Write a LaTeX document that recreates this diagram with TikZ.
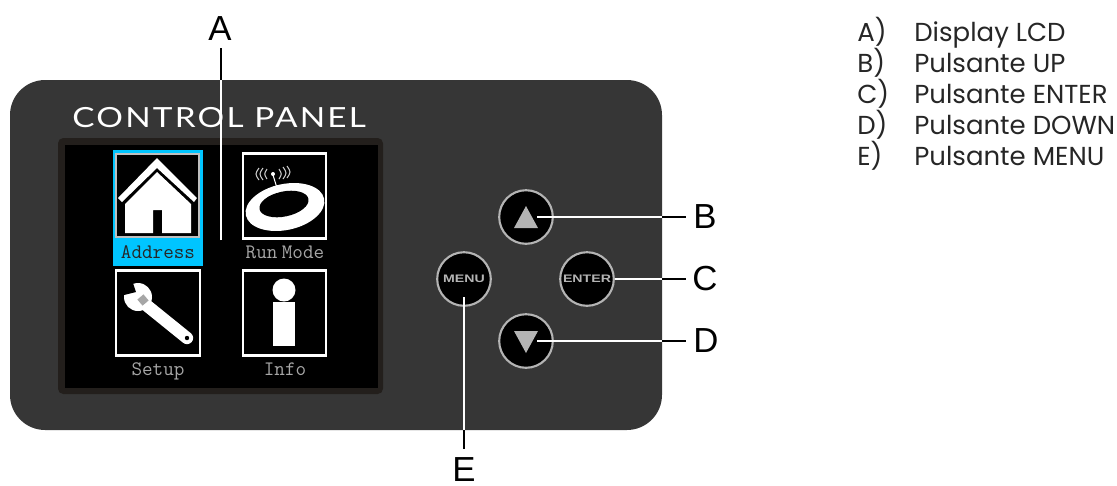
\documentclass[tikz,border=0pt]{standalone}
\usepackage{fontspec}
\setmainfont{Liberation Sans}
\newfontfamily\panelfont[LetterSpace=8,FakeStretch=1.2]{Lato}
\newfontfamily\legendfont{Poppins}
\newfontfamily\lcdfont{Latin Modern Mono}
\definecolor{paneldark}{HTML}{363636}
\definecolor{lcdrim}{HTML}{231F1C}
\definecolor{lcdcyan}{HTML}{00C5FF}
\definecolor{keygrey}{HTML}{B4B4B4}
\tikzset{keyround/.style={circle,draw=keygrey,line width=1.2pt,fill=black,minimum size=30.5pt,inner sep=0pt}}
\tikzset{keytext/.style={text=keygrey,font=\fontsize{6.2}{7}\selectfont\bfseries,inner sep=0pt}}
\tikzset{letter/.style={font=\fontsize{19.8}{22}\selectfont,inner sep=0pt}}
\tikzset{legendrow/.style={anchor=base west,font=\legendfont\fontsize{14.8}{18}\selectfont,text=black!85,inner sep=0pt}}
\tikzset{lcdtext/.style={anchor=base,font=\lcdfont\fontsize{11.7}{14}\selectfont,text=black!35,inner sep=0pt}}
\tikzset{iconbox/.style={draw=white,line width=1.7pt,fill=black}}
\tikzset{waveline/.style={draw=white!80!black,line width=.6pt}}
\tikzset{leadwhite/.style={draw=white,line width=1.2pt}}
\tikzset{leadblack/.style={draw=black,line width=1.2pt}}
\begin{document}
\begin{tikzpicture}
                [x=0.02cm,y=-0.02cm]
                \useasboundingbox (0,0) rectangle (1117,485);
                \fill [paneldark,rounded corners=20pt] (10,80) rectangle (662,430);
                \node [anchor=base west,text=white,inner sep=0pt,font=\panelfont\fontsize{15.8}{18}\selectfont] (title) at (72,127) {CONTROL PANEL};
                \fill [lcdrim,rounded corners=3pt] (58,138) rectangle (383,394);
                \fill [black] (65,145) rectangle (378,388);

                \fill [lcdcyan] (113,150) rectangle (203,266);
                \draw [draw=white!75!black,line width=.7pt,fill=black] (116,154) rectangle (199,237);
                \draw [iconbox] (243,153) rectangle (326,238);
                \draw [iconbox] (116,270) rectangle (200,355);
                \draw [iconbox] (243,270) rectangle (326,355);

                \fill [white] (157,158) -- (197,198) -- (194,202) -- (157,168) -- (122,202) -- (118,198) -- cycle;
                \fill [white] (157,172) -- (191,204) -- (191,233) -- (162,233) -- (162,210) -- (153,210) -- (153,233) -- (125,233) -- (125,204) -- cycle;

                \fill [white,rotate around={12:(285,207)}] (285,207) ellipse (40 and 23);
                \fill [black,rotate around={12:(284,204)}] (284,204) ellipse (25 and 12.5);
                \fill [white] (277,189) ellipse (5 and 3.5);
                \draw [white,line width=.6pt] (273,175) -- (277,188);
                \fill [white] (273,174) circle (2);
                \draw [waveline] (267,169) .. controls (264,174) .. (267,179);
                \draw [waveline] (263,168) .. controls (259,174) .. (263,180);
                \draw [waveline] (259,168) .. controls (255,174) .. (259,180);
                \draw [waveline] (279,169) .. controls (282,174) .. (279,179);
                \draw [waveline] (283,167) .. controls (287,173) .. (283,179);
                \draw [waveline] (287,166) .. controls (291,172) .. (287,178);

                \draw [white,line width=7pt,line cap=round] (140,300) -- (187,338);
                \fill [white] (138,297) circle (14);
                \fill [black] (120,278) -- (133,283) -- (136,292) -- (124,295) -- cycle;
                \fill [black!35,rotate around={40:(143,300)}] (139,296) rectangle (147,304);
                \fill [black] (187,338) circle (2.2);

                \fill [white] (284,290) circle (11.5);
                \fill [white] (273,302) rectangle (295,346);

                \node [lcdtext,text=black!85] (address) at (158,258) {Address};
                \node [lcdtext] (runmode) at (285,258) {Run\kern-.3em\ Mode};
                \node [lcdtext] (setup) at (158,375) {Setup};
                \node [lcdtext] (info) at (285,375) {Info};

                \node [keyround] (up) at (526,217) {};
                \node [keyround] (enter) at (587,279) {};
                \node [keyround] (down) at (526,341) {};
                \node [keyround] (menu) at (464,279) {};
                \fill [keygrey] (526,206) -- (538,228) -- (514,228) -- cycle;
                \fill [keygrey] (526,353) -- (538,331) -- (514,331) -- cycle;
                \node [keytext] (entertext) at (587,279) {\scalebox{1.3}[1]{ENTER}};
                \node [keytext] (menutext) at (464,279) {\scalebox{1.3}[1]{MENU}};

                \node [letter] (A) at (220,29) {A};
                \node [letter] (B) at (705,217) {B};
                \node [letter] (C) at (705,279) {C};
                \node [letter] (D) at (706,341) {D};
                \node [letter] (E) at (464,470) {E};

                \coordinate (ta) at (221,240);
                \coordinate (tb) at (537,217);
                \coordinate (tc) at (615,279);
                \coordinate (td) at (537,341);
                \coordinate (te) at (464,297);
                \coordinate (ea) at (221,80);
                \coordinate (eb) at (662,217);
                \coordinate (ec) at (662,279);
                \coordinate (ed) at (662,341);
                \coordinate (ee) at (464,430);
                \coordinate (la) at (221,48);
                \coordinate (lb) at (686,217);
                \coordinate (lc) at (686,279);
                \coordinate (ld) at (686,341);
                \coordinate (le) at (464,449);

                \foreach \from/\to in {ta/ea,tb/eb,tc/ec,td/ed,te/ee}
                \draw [leadwhite] (\from) -- (\to);

                \foreach \from/\to in {ea/la,eb/lb,ec/lc,ed/ld,ee/le}
                \draw [leadblack] (\from) -- (\to);

                \node [legendrow] (ka) at (857,41) {A)};
                \node [legendrow] (kb) at (857,72) {B)};
                \node [legendrow] (kc) at (857,103) {C)};
                \node [legendrow] (kd) at (857,134) {D)};
                \node [legendrow] (ke) at (857,165) {E)};
                \node [legendrow] (va) at (914,41) {Display LCD};
                \node [legendrow] (vb) at (914,72) {Pulsante UP};
                \node [legendrow] (vc) at (914,103) {Pulsante ENTER};
                \node [legendrow] (vd) at (914,134) {Pulsante DOWN};
                \node [legendrow] (ve) at (914,165) {Pulsante MENU};
            \end{tikzpicture}
\end{document}
